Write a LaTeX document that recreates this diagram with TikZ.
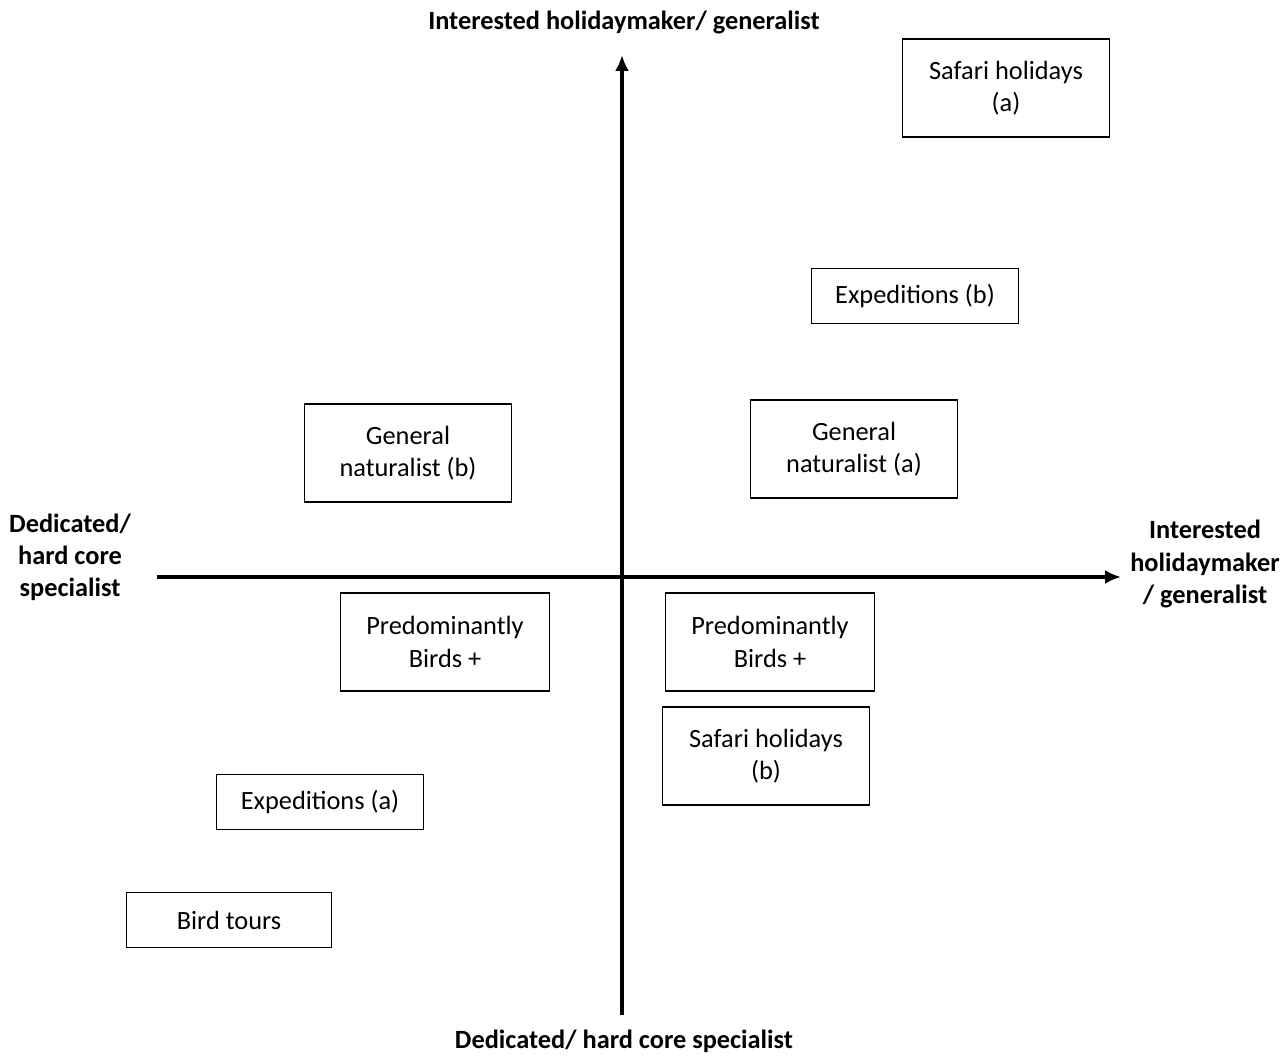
\documentclass[tikz,border=0pt]{standalone}
\usepackage{fontspec}
\setmainfont{Carlito}
\usetikzlibrary{arrows.meta}

\tikzset{
  tourbox/.style={draw, line width=0.9pt, align=center, inner sep=0pt,
    minimum width=4.14cm, minimum height=1.96cm,
    font=\fontsize{15}{18.3}\selectfont},
  flatbox/.style={tourbox, minimum height=1.1cm},
  axislabel/.style={align=center, font=\fontsize{15}{18.3}\selectfont\bfseries},
  axisline/.style={line width=2pt, -{Latex[length=0.32cm,width=0.28cm]}}
}

\begin{document}
\begin{tikzpicture}[x=0.02cm, y=-0.02cm]
  \useasboundingbox (0,0) rectangle (1288,1061);

  % Axis end points
  \coordinate (xl) at (157,577);
  \coordinate (xr) at (1121,577);
  \coordinate (yb) at (622,1015);
  \coordinate (yt) at (622,55);

  % Axes
  \draw[axisline] (xl) -- (xr);
  \draw[axisline] (yb) -- (yt);

  % Axis labels
  \node[axislabel] (top) at (624,22) {Interested holidaymaker/ generalist};
  \node[axislabel] (bottom) at (624,1041) {Dedicated/ hard core specialist};
  \node[axislabel] (left) at (70,557) {Dedicated/\\hard core\\specialist};
  \node[axislabel] (right) at (1205,564) {Interested\\holidaymaker\\/ generalist};

  % Tour types
  \node[tourbox] (safaria) at (1006,88) {Safari holidays\\(a)};
  \node[flatbox] (expb) at (915,296) {Expeditions (b)};
  \node[tourbox] (genb) at (408,453) {General\\naturalist (b)};
  \node[tourbox] (gena) at (854,449) {General\\naturalist (a)};
  \node[tourbox, minimum width=4.18cm] (birdsl) at (445,642) {Predominantly\\Birds +};
  \node[tourbox, minimum width=4.18cm] (birdsr) at (770,642) {Predominantly\\Birds +};
  \node[tourbox] (safarib) at (766,756) {Safari holidays\\(b)};
  \node[flatbox] (expa) at (320,802) {Expeditions (a)};
  \node[flatbox, minimum width=4.1cm] (birdtours) at (229,920) {Bird tours};
\end{tikzpicture}
\end{document}
